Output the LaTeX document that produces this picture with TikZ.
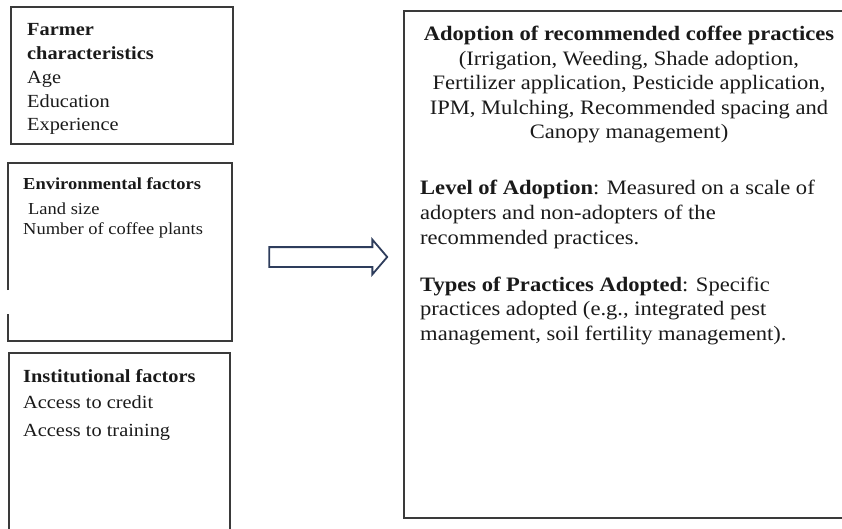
\documentclass[tikz,border=0pt]{standalone}
\usepackage{fontspec}
\setmainfont{Liberation Serif}[FakeStretch=1.1]
\usetikzlibrary{shapes.arrows}
\definecolor{boxline}{HTML}{3A3A3A}
\definecolor{txt}{HTML}{1A1A1A}
\definecolor{navy}{HTML}{2E3D5C}
\tikzset{
  boxedge/.style={draw=boxline, line width=1.3pt},
  bigtxt/.style={inner sep=0pt, text=txt, font=\fontsize{18.5}{22}\selectfont},
  smalltxt/.style={inner sep=0pt, text=txt, font=\fontsize{16.8}{20}\selectfont},
  outtxt/.style={inner sep=0pt, text=txt, font=\fontsize{20.5}{24}\selectfont},
  lline/.style={anchor=base west},
  cline/.style={anchor=base},
  blockarrow/.style={single arrow, draw=navy, fill=white, line width=1.8pt,
    inner xsep=0pt, inner ysep=9pt, minimum height=118pt,
    single arrow head extend=7.5pt, single arrow tip angle=99}
}
\begin{document}
\begin{tikzpicture}[x=1pt,y=-1pt]
\useasboundingbox (0,0) rectangle (842,528);
\clip (0,0) rectangle (842,528);

% factor boxes on the left
\draw[boxedge] (11,7) rectangle (233,144);
\draw[boxedge] (8,290) -- (8,163) -- (232,163) -- (232,341) -- (8,341) -- (8,314);
\draw[boxedge] (9,540) -- (9,353) -- (230,353) -- (230,540);

% outcome box on the right
\draw[boxedge] (860,518) -- (404,518) -- (404,11) -- (860,11);

% farmer characteristics
\node[bigtxt,lline] (f1) at (27,35) {\textbf{Farmer}};
\node[bigtxt,lline] (f2) at (27,59) {\textbf{characteristics}};
\node[bigtxt,lline] (f3) at (27,83) {Age};
\node[bigtxt,lline] (f4) at (27,107) {Education};
\node[bigtxt,lline] (f5) at (27,130) {Experience};

% environmental factors
\node[smalltxt,lline] (e1) at (23,189) {\textbf{Environmental factors}};
\node[smalltxt,lline] (e2) at (28,214) {Land size};
\node[smalltxt,lline] (e3) at (23,234) {Number of coffee plants};

% institutional factors
\node[bigtxt,lline] (i1) at (23,382) {\textbf{Institutional factors}};
\node[bigtxt,lline] (i2) at (23,408) {Access to credit};
\node[bigtxt,lline] (i3) at (23,436) {Access to training};

% block arrow
\node[blockarrow] (arrow) at (324,257) {};

% outcome text
\node[outtxt,cline] (o1) at (629,40) {\textbf{Adoption of recommended coffee practices}};
\node[outtxt,cline] (o2) at (629,65) {(Irrigation, Weeding, Shade adoption,};
\node[outtxt,cline] (o3) at (629,89) {Fertilizer application, Pesticide application,};
\node[outtxt,cline] (o4) at (629,114) {IPM, Mulching, Recommended spacing and};
\node[outtxt,cline] (o5) at (629,138) {Canopy management)};

\node[outtxt,lline] (l1) at (420,194) {\textbf{Level of Adoption}: Measured on a scale of};
\node[outtxt,lline] (l2) at (420,219) {adopters and non-adopters of the};
\node[outtxt,lline] (l3) at (420,244) {recommended practices.};

\node[outtxt,lline] (t1) at (420,291) {\textbf{Types of Practices Adopted}: Specific};
\node[outtxt,lline] (t2) at (420,315) {practices adopted (e.g., integrated pest};
\node[outtxt,lline] (t3) at (420,340) {management, soil fertility management).};
\end{tikzpicture}
\end{document}
